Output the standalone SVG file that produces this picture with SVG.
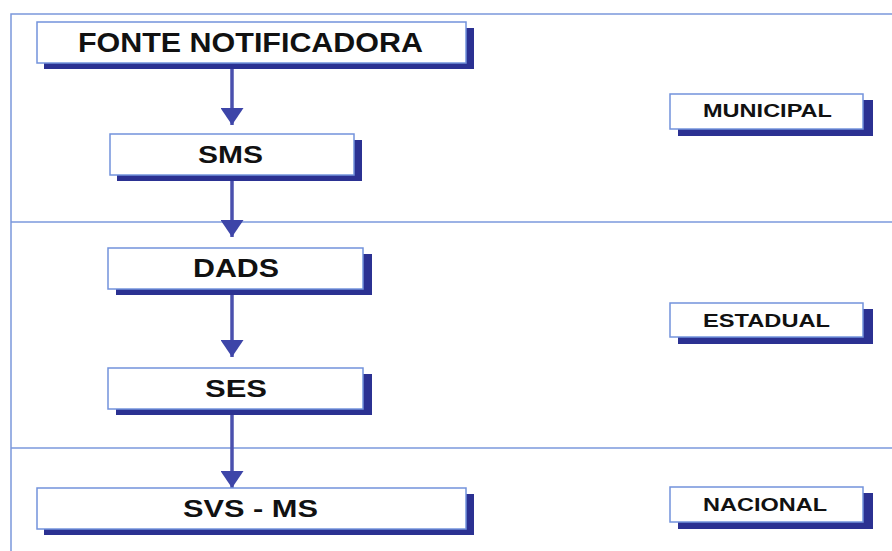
<svg xmlns="http://www.w3.org/2000/svg" width="892" height="551" viewBox="0 0 892 551">
<style>
.frame{fill:none;stroke:#7b98dc;stroke-width:1.5}
.shadow{fill:#2b3192}
.box{fill:#ffffff;stroke:#7393dc;stroke-width:1.5}
.t{font-family:"Liberation Sans",Arial,sans-serif;font-weight:bold;fill:#111111}
.conn{stroke:#4a50ae;stroke-width:3.5;fill:none;marker-end:url(#ah)}
</style>
<defs>
<marker id="ah" markerUnits="userSpaceOnUse" markerWidth="17" markerHeight="23" viewBox="0 0 17 23" refX="17" refY="11.5" orient="auto">
<path d="M0,0 L17,11.5 L0,23 Z" fill="#3d45a8"/>
</marker>
</defs>
<rect width="892" height="551" fill="#ffffff"/>
<g id="frame">
<path class="frame" d="M11,551 L11,14 L892,14"/>
<line class="frame" x1="11" y1="222" x2="892" y2="222"/>
<line class="frame" x1="11" y1="448" x2="892" y2="448"/>
</g>
<g id="connectors">
<line class="conn" x1="232" y1="63" x2="232" y2="125"/>
<line class="conn" x1="232" y1="175" x2="232" y2="237"/>
<line class="conn" x1="232" y1="289" x2="232" y2="357"/>
<line class="conn" x1="232" y1="409" x2="232" y2="488"/>
</g>
<g id="fonte">
<rect class="shadow" x="44" y="28" width="430" height="41"/>
<rect class="box" x="37" y="22" width="429" height="41"/>
<text class="t" x="78" y="52" font-size="27" textLength="345" lengthAdjust="spacingAndGlyphs">FONTE NOTIFICADORA</text>
</g>
<g id="sms">
<rect class="shadow" x="117" y="140" width="245" height="41"/>
<rect class="box" x="110" y="134" width="244" height="41"/>
<text class="t" x="198" y="163" font-size="23" textLength="65" lengthAdjust="spacingAndGlyphs">SMS</text>
</g>
<g id="dads">
<rect class="shadow" x="116" y="254" width="256" height="41"/>
<rect class="box" x="108" y="248" width="255" height="41"/>
<text class="t" x="193" y="277" font-size="25" textLength="86" lengthAdjust="spacingAndGlyphs">DADS</text>
</g>
<g id="ses">
<rect class="shadow" x="116" y="374" width="256" height="41"/>
<rect class="box" x="108" y="368" width="255" height="41"/>
<text class="t" x="205" y="397" font-size="24" textLength="62" lengthAdjust="spacingAndGlyphs">SES</text>
</g>
<g id="svs">
<rect class="shadow" x="44" y="494" width="430" height="41"/>
<rect class="box" x="37" y="488" width="429" height="41"/>
<text class="t" x="183" y="517" font-size="24" textLength="135" lengthAdjust="spacingAndGlyphs">SVS - MS</text>
</g>
<g id="municipal">
<rect class="shadow" x="678" y="100" width="195" height="36"/>
<rect class="box" x="670" y="94" width="193" height="35"/>
<text class="t" x="703" y="117" font-size="18" textLength="129" lengthAdjust="spacingAndGlyphs">MUNICIPAL</text>
</g>
<g id="estadual">
<rect class="shadow" x="678" y="309" width="195" height="35"/>
<rect class="box" x="670" y="303" width="193" height="34"/>
<text class="t" x="703" y="327" font-size="18" textLength="127" lengthAdjust="spacingAndGlyphs">ESTADUAL</text>
</g>
<g id="nacional">
<rect class="shadow" x="678" y="493" width="195" height="36"/>
<rect class="box" x="670" y="487" width="193" height="35"/>
<text class="t" x="703" y="511" font-size="18" textLength="124" lengthAdjust="spacingAndGlyphs">NACIONAL</text>
</g>
</svg>
